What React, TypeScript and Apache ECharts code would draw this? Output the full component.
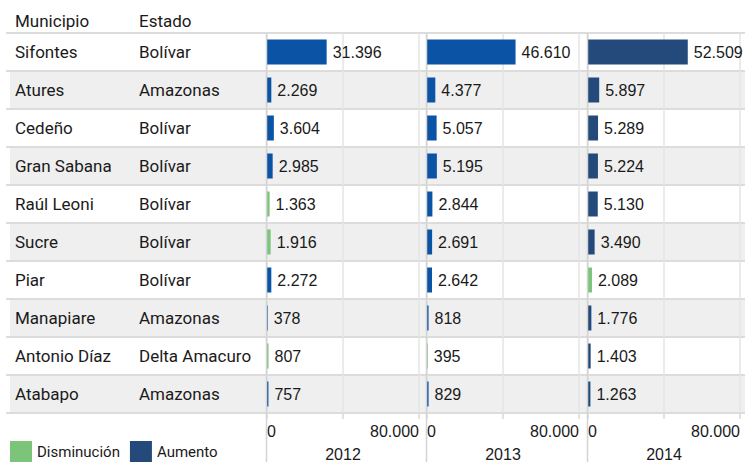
import React, { useEffect, useRef } from "react";
import * as echarts from "echarts";

const municipios = ["Sifontes", "Atures", "Cedeño", "Gran Sabana", "Raúl Leoni", "Sucre", "Piar", "Manapiare", "Antonio Díaz", "Atabapo"];
const estados = ["Bolívar", "Amazonas", "Bolívar", "Bolívar", "Bolívar", "Bolívar", "Bolívar", "Amazonas", "Delta Amacuro", "Amazonas"];
const years = ["2012", "2013", "2014"];
const v2012 = [31396, 2269, 3604, 2985, 1363, 1916, 2272, 378, 807, 757];
const v2013 = [46610, 4377, 5057, 5195, 2844, 2691, 2642, 818, 395, 829];
const v2014 = [52509, 5897, 5289, 5224, 5130, 3490, 2089, 1776, 1403, 1263];
// 2012 decreases vs. 2011 (as coloured in the source)
const dec2012 = [false, false, false, false, true, true, false, false, true, false];
const xMin = 0;
const xMax = 80000;
const xInterval = 40000;
const xTickLabels: Record<number, string> = { 0: "0", 80000: "80.000" };
const legendNames = ["Disminución", "Aumento"];

const BLUE = "#0a53a5";
const NAVY = "#234a7b";
const GREEN = "#7bc47a";
const ROW_BG = "#efefef";
const LINE = "#dcdcdc";
const TEXT = "#1a1a1a";
const SANS = "Roboto, 'Noto Sans', sans-serif";
const NUMF = "'Liberation Sans', Arial, sans-serif";

const fmt = (v: number) => String(v).replace(/\B(?=(\d{3})+(?!\d))/g, ".");

export default function App() {
  const ref = useRef<HTMLDivElement>(null);
  useEffect(() => {
    document.body.style.margin = "0";
    const chart = echarts.init(ref.current!, undefined, { renderer: "svg" });
    const values = [v2012, v2013, v2014];
    const decFlags = [
      dec2012,
      v2013.map((v, i) => v < v2012[i]),
      v2014.map((v, i) => v < v2013[i]),
    ];
    const yearColors = [BLUE, BLUE, NAVY];
    const gridLefts = [267, 427, 588];
    const top = 33;
    const rowH = 38;
    const n = municipios.length;

    const graphics: any[] = [];
    for (let i = 0; i < n; i++) {
      if (i % 2 === 1) {
        graphics.push({ type: "rect", z: -10, silent: true, shape: { x: 10, y: top + rowH * i, width: 735, height: rowH }, style: { fill: ROW_BG } });
      }
    }
    for (let i = 0; i <= n; i++) {
      graphics.push({ type: "line", z: -5, silent: true, shape: { x1: 6, y1: top + rowH * i, x2: 745, y2: top + rowH * i }, style: { stroke: LINE, lineWidth: 2 } });
    }
    gridLefts.forEach((gx) => {
      graphics.push({ type: "line", z: 5, silent: true, shape: { x1: gx - 0.5, y1: top, x2: gx - 0.5, y2: 462 }, style: { stroke: "#d4d4d4", lineWidth: 1.5 } });
    });
    graphics.push({ type: "text", x: 15, y: 21, style: { text: "Municipio", fill: TEXT, font: `17px ${SANS}`, textVerticalAlign: "middle" } });
    graphics.push({ type: "text", x: 139, y: 21, style: { text: "Estado", fill: TEXT, font: `17px ${SANS}`, textVerticalAlign: "middle" } });

    const option: any = {
      animation: false,
      backgroundColor: "#ffffff",
      graphic: graphics,
      legend: {
        left: 10,
        top: 441,
        padding: 0,
        itemWidth: 22,
        itemHeight: 21,
        itemGap: 10,
        icon: "rect",
        selectedMode: false,
        data: legendNames,
        textStyle: { fontFamily: SANS, fontSize: 15, color: TEXT },
      },
      grid: gridLefts.map((l) => ({ left: l, top, width: 152, height: rowH * n, containLabel: false, outerBoundsMode: "none" })),
      xAxis: years.map((y, k) => ({
        type: "value",
        gridIndex: k,
        min: xMin,
        max: xMax,
        interval: xInterval,
        name: y,
        nameLocation: "middle",
        nameGap: 33,
        nameTextStyle: { fontFamily: NUMF, fontSize: 16, color: TEXT },
        axisLine: { show: false },
        axisTick: { show: true, length: 6, lineStyle: { color: "#d8d8d8", width: 1.5 } },
        splitLine: { show: true, lineStyle: { color: "#e4e4e4", width: 1.5 } },
        axisLabel: {
          margin: 10,
          fontFamily: NUMF,
          fontSize: 16,
          color: TEXT,
          alignMinLabel: "left",
          alignMaxLabel: "right",
          formatter: (v: number) => xTickLabels[v] ?? "",
        },
      })),
      yAxis: years.map((_, k) => ({
        type: "category",
        gridIndex: k,
        data: municipios,
        inverse: true,
        axisLine: { show: false },
        axisTick: { show: false },
        splitLine: { show: false },
        axisLabel: k === 0
          ? {
              show: true,
              margin: 8,
              formatter: (v: string, idx: number) => `{m|${v}}{e|${estados[idx]}}`,
              rich: {
                m: { width: 124, align: "left", fontFamily: SANS, fontSize: 17, color: TEXT },
                e: { width: 120, align: "left", fontFamily: SANS, fontSize: 17, color: TEXT },
              },
            }
          : { show: false },
      })),
      series: [
        ...years.map((y, k) => ({
          type: "bar",
          name: y,
          xAxisIndex: k,
          yAxisIndex: k,
          barWidth: 25,
          data: values[k].map((v, i) => ({ value: v, itemStyle: { color: decFlags[k][i] ? GREEN : yearColors[k] } })),
          label: {
            show: true,
            position: "right",
            distance: 6,
            fontFamily: NUMF,
            fontSize: 16,
            color: TEXT,
            formatter: (p: any) => fmt(p.value),
          },
        })),
        { type: "line", name: legendNames[0], xAxisIndex: 0, yAxisIndex: 0, data: [], itemStyle: { color: GREEN }, lineStyle: { color: GREEN } },
        { type: "line", name: legendNames[1], xAxisIndex: 0, yAxisIndex: 0, data: [], itemStyle: { color: NAVY }, lineStyle: { color: NAVY } },
      ],
    };
    chart.setOption(option);
    return () => chart.dispose();
  }, []);
  return <div ref={ref} style={{ width: 745, height: 462 }} />;
}
